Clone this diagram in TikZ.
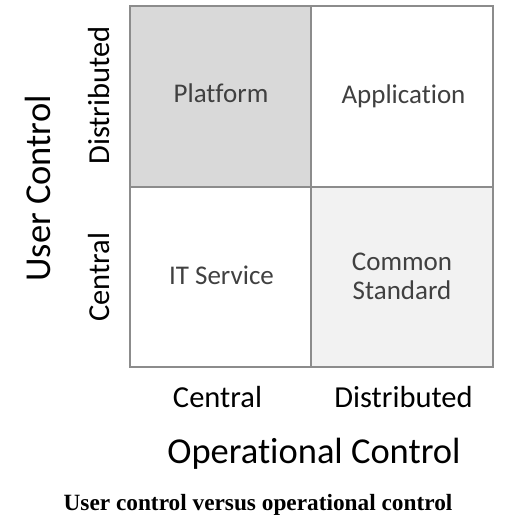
\documentclass[tikz,border=0pt]{standalone}
\usepackage{fontspec}
\setmainfont[Ligatures={NoCommon,NoContextual}]{Carlito}
\newfontfamily\capfont{Liberation Serif}
\definecolor{gridline}{HTML}{8C8C8C}
\definecolor{celltext}{HTML}{404040}
\definecolor{darkcell}{HTML}{D9D9D9}
\definecolor{lightcell}{HTML}{F2F2F2}
\begin{document}
\begin{tikzpicture}[x=1pt,y=-1pt,
  cell/.style={draw=gridline, line width=2pt, minimum width=181.5pt, minimum height=180.5pt, inner sep=0pt},
  celllabel/.style={anchor=base, inner sep=0pt, text=celltext, font=\fontsize{27}{32}\selectfont},
  ticklabel/.style={anchor=base, inner sep=0pt, text=black, font=\fontsize{30.5}{36}\selectfont},
  axislabel/.style={anchor=base, inner sep=0pt, text=black, font=\fontsize{36.5}{44}\selectfont},
  caption/.style={anchor=base, inner sep=0pt, text=black, font=\capfont\bfseries\fontsize{23.3}{28}\selectfont}]
\useasboundingbox[fill=white] (0,0) rectangle (506,521);
% cells
\node[cell, fill=darkcell]  (pl) at (220.5,96.5) {};
\node[cell, fill=white]     (ap) at (402,96.5) {};
\node[cell, fill=white]     (it) at (220.5,277) {};
\node[cell, fill=lightcell] (cs) at (402,277) {};
% cell labels
\node[celllabel] (tpl) at (221,103) {Platform};
\node[celllabel] (tap) at (403.5,104) {Application};
\node[celllabel] (tit) at (221.5,284) {IT Service};
\node[celllabel] (tcs1) at (402,270) {Common};
\node[celllabel] (tcs2) at (402,299) {Standard};
% vertical axis
\node[ticklabel, rotate=90] (ydist) at (109,95.5) {Distributed};
\node[ticklabel, rotate=90] (ycent) at (109,277) {Central};
\node[axislabel, rotate=90] (ylab) at (50,188.5) {User Control};
% horizontal axis
\node[ticklabel] (xcent) at (217.5,407) {Central};
\node[ticklabel] (xdist) at (403.5,407) {Distributed};
\node[axislabel] (xlab) at (314,463) {Operational Control};
% caption
\node[caption] (cap) at (258,510) {User control versus operational control};
\end{tikzpicture}
\end{document}
